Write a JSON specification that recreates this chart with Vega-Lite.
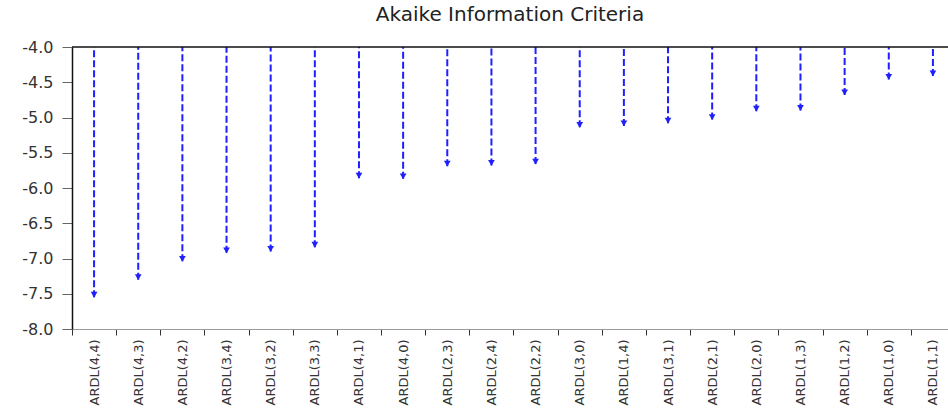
{
  "$schema": "https://vega.github.io/schema/vega-lite/v6.json",
  "autosize": {"type": "none"},
  "width": 876,
  "height": 282,
  "padding": {"left": 72, "top": 47, "right": 0, "bottom": 80},
  "background": "white",
  "title": {"text": "Akaike Information Criteria", "font": "DejaVu Sans", "fontSize": 20, "fontWeight": "normal", "color": "#222", "anchor": "middle", "offset": 14},
  "config": {"view": {"stroke": null}},
  "data": {"values": [
    {"model": "ARDL(4,4)", "aic": -7.55},
    {"model": "ARDL(4,3)", "aic": -7.30},
    {"model": "ARDL(4,2)", "aic": -7.04},
    {"model": "ARDL(3,4)", "aic": -6.92},
    {"model": "ARDL(3,2)", "aic": -6.90},
    {"model": "ARDL(3,3)", "aic": -6.84},
    {"model": "ARDL(4,1)", "aic": -5.86},
    {"model": "ARDL(4,0)", "aic": -5.87},
    {"model": "ARDL(2,3)", "aic": -5.69},
    {"model": "ARDL(2,4)", "aic": -5.68},
    {"model": "ARDL(2,2)", "aic": -5.66},
    {"model": "ARDL(3,0)", "aic": -5.14},
    {"model": "ARDL(1,4)", "aic": -5.12},
    {"model": "ARDL(3,1)", "aic": -5.08},
    {"model": "ARDL(2,1)", "aic": -5.03},
    {"model": "ARDL(2,0)", "aic": -4.91},
    {"model": "ARDL(1,3)", "aic": -4.90},
    {"model": "ARDL(1,2)", "aic": -4.68},
    {"model": "ARDL(1,0)", "aic": -4.46},
    {"model": "ARDL(1,1)", "aic": -4.41}
  ]},
  "layer": [
    {
      "mark": {"type": "rule", "color": "#1f1fff", "strokeWidth": 2, "strokeDash": [7, 3]},
      "encoding": {
        "x": {"field": "model", "type": "nominal", "sort": null,
          "scale": {"range": [0, 883], "paddingInner": 0, "paddingOuter": 0},
          "axis": {"title": null, "labelAngle": -90, "labelFont": "DejaVu Sans", "labelFontSize": 13, "labelColor": "#333", "tickSize": 6, "tickColor": "#333", "tickBand": "extent", "domainColor": "#999", "labelPadding": 4, "labelOverlap": false}},
        "y": {"field": "aic", "type": "quantitative",
          "scale": {"domain": [-8, -4], "nice": false, "zero": false},
          "axis": {"title": null, "values": [-8, -7.5, -7, -6.5, -6, -5.5, -5, -4.5, -4], "tickCount": 9, "format": ".1f", "labelExpr": "replace(datum.label, '\u2212', '-')", "labelOverlap": false, "labelFont": "DejaVu Sans", "labelFontSize": 16, "labelColor": "#333", "tickSize": 10, "tickColor": "#666", "labelPadding": 9, "grid": false, "domainColor": "#111", "domainWidth": 1.5}},
        "y2": {"datum": -4}
      }
    },
    {
      "mark": {"type": "point", "shape": "triangle-down", "filled": true, "size": 45, "color": "#1f1fff", "opacity": 1, "yOffset": -2.5},
      "encoding": {
        "x": {"field": "model", "type": "nominal", "sort": null},
        "y": {"field": "aic", "type": "quantitative",
          "axis": {"title": null, "values": [-8, -7.5, -7, -6.5, -6, -5.5, -5, -4.5, -4], "tickCount": 9, "format": ".1f", "labelExpr": "replace(datum.label, '\u2212', '-')", "labelOverlap": false, "labelFont": "DejaVu Sans", "labelFontSize": 16, "labelColor": "#333", "tickSize": 10, "tickColor": "#666", "labelPadding": 9, "grid": false, "domainColor": "#111", "domainWidth": 1.5}}
      }
    },
    {
      "data": {"values": [{}]},
      "mark": {"type": "rule", "color": "#111", "strokeWidth": 1.5},
      "encoding": {"y": {"datum": -4,
          "axis": {"title": null, "values": [-8, -7.5, -7, -6.5, -6, -5.5, -5, -4.5, -4], "tickCount": 9, "format": ".1f", "labelExpr": "replace(datum.label, '\u2212', '-')", "labelOverlap": false, "labelFont": "DejaVu Sans", "labelFontSize": 16, "labelColor": "#333", "tickSize": 10, "tickColor": "#666", "labelPadding": 9, "grid": false, "domainColor": "#111", "domainWidth": 1.5}}}
    }
  ]
}
